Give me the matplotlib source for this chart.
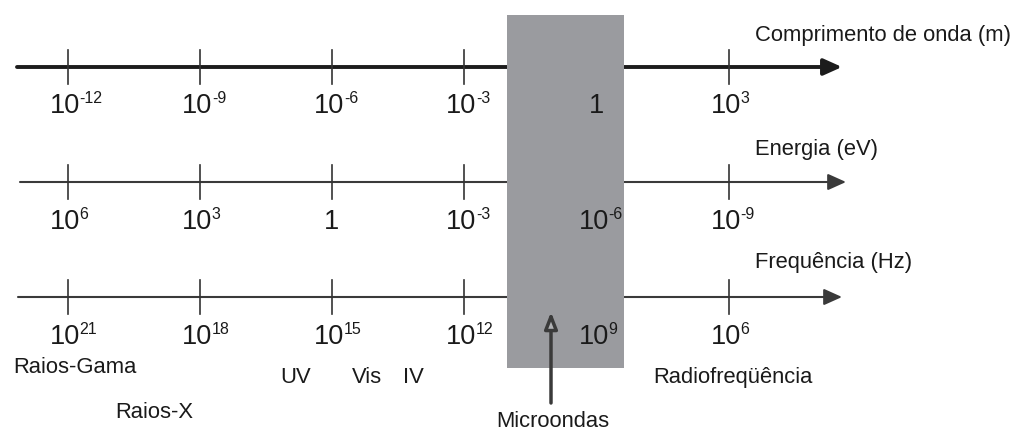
import matplotlib
matplotlib.use("Agg")
import matplotlib.pyplot as plt
from matplotlib.patches import Rectangle, FancyArrowPatch

# ---- data ----
wavelength_exp = [-12, -9, -6, -3, 0, 3]
energy_exp = [6, 3, 0, -3, -6, -9]
frequency_exp = [21, 18, 15, 12, 9, 6]
axis_titles = ["Comprimento de onda (m)", "Energia (eV)", "Frequência (Hz)"]
region_labels = ["Raios-Gama", "Raios-X", "UV", "Vis", "IV", "Microondas", "Radiofreqüência"]
microwave_span = [-2.03, 0.63]   # wavelength exponent range of the shaded box

# ---- layout (pixel based) ----
W, H = 1018, 430
PX_PER_DEC = 44.07
X0 = 596.4            # pixel of wavelength exponent 0

def px(xpix):
    return (xpix - X0) / PX_PER_DEC

plt.rcParams['font.family'] = ['Liberation Sans', 'DejaVu Sans']
fig = plt.figure(figsize=(W / 100, H / 100), dpi=100)
ax = fig.add_axes([0, 0, 1, 1])
ax.set_xlim(px(0), px(W))
ax.set_ylim(H, 0)
ax.axis('off')

axis_y = [67, 182, 297]
axis_start = [17, 20, 18]
axis_tip = [842, 846, 842]
axis_lw = [2.8, 1.5, 1.5]
axis_col = ['#1c1c1c', '#3a3a3a', '#3a3a3a']
label_base = [113, 229, 344]
title_base = [41, 155, 268]
series = [wavelength_exp, energy_exp, frequency_exp]

BIG = 19.5
SUP = 11.5
TXT = 15.8

for i, exps in enumerate(series):
    y = axis_y[i]
    arr = FancyArrowPatch((px(axis_start[i]), y), (px(axis_tip[i]), y),
                          arrowstyle='-|>,head_length=1.0,head_width=0.45',
                          mutation_scale=11, lw=axis_lw[i],
                          color=axis_col[i], shrinkA=0, shrinkB=0, zorder=2)
    ax.add_patch(arr)
    for xv, e in zip(wavelength_exp, exps):
        ax.plot([xv, xv], [y - 17, y + 17], color='#333333', lw=1.2, zorder=2)
        if e == 0:
            ax.text(xv, label_base[i], "1", fontsize=BIG, ha='center',
                    va='baseline', color='#1a1a1a', zorder=5)
        else:
            xb = xv - 18 / PX_PER_DEC
            ax.text(xb, label_base[i], "10", fontsize=BIG, ha='left',
                    va='baseline', color='#1a1a1a', zorder=5)
            ax.text(xb + 30 / PX_PER_DEC, label_base[i] - 10, str(e),
                    fontsize=SUP, ha='left', va='baseline', color='#1a1a1a',
                    zorder=5)
    ax.text(px(755), title_base[i], axis_titles[i], fontsize=TXT,
            ha='left', va='baseline', color='#1a1a1a')

# shaded microwave region
ax.add_patch(Rectangle((microwave_span[0], 15), microwave_span[1] - microwave_span[0],
                       353, facecolor='#9a9b9f', edgecolor='none', zorder=3))

# region labels
label_pos = [(13, 373), (115, 418), (280, 383), (352, 383), (403, 383),
             (496, 427), (653, 383)]
for txt, (xp, yp) in zip(region_labels, label_pos):
    ax.text(px(xp), yp, txt, fontsize=TXT, ha='left', va='baseline',
            color='#1a1a1a', zorder=5)

# microwave arrow
ax.add_patch(FancyArrowPatch((px(551), 403), (px(551), 312),
                             arrowstyle='-|>,head_length=0.9,head_width=0.35',
                             mutation_scale=11, lw=2.5, edgecolor='#3a3a3a',
                             facecolor='#b0b1b4', shrinkA=0, shrinkB=0, zorder=6))

fig.savefig("out.png", dpi=100)
